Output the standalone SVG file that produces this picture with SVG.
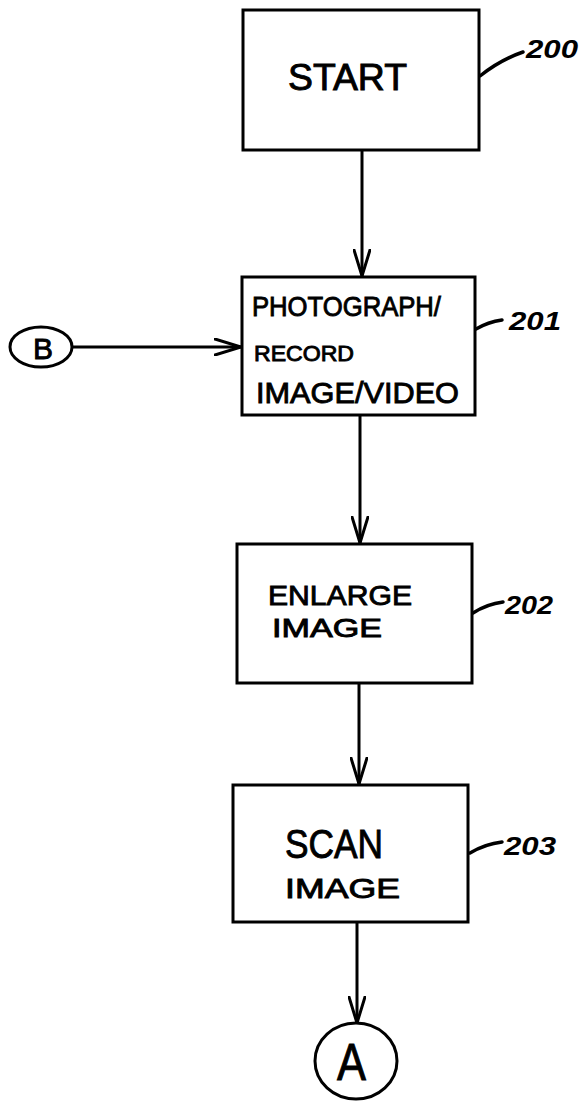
<svg xmlns="http://www.w3.org/2000/svg" width="585" height="1101" viewBox="0 0 585 1101">
<style>
.box{fill:#fff;stroke:#000;stroke-width:3}
.conn{fill:none;stroke:#000;stroke-width:3}
.lead{fill:none;stroke:#000;stroke-width:3.5;stroke-linecap:round}
.t{font-family:"Liberation Sans",Arial,sans-serif;fill:#000;stroke:#000;stroke-width:0.9}
.lbl{font-family:"Liberation Sans",Arial,sans-serif;fill:#000;font-size:26px;font-style:italic;font-weight:bold}
</style>
<defs>
<marker id="arr" viewBox="0 0 28 18" refX="27" refY="9" markerWidth="28" markerHeight="18" markerUnits="userSpaceOnUse" orient="auto">
<path d="M1,1 L27,9 L1,17" fill="none" stroke="#000" stroke-width="3" stroke-linecap="round"/>
</marker>
</defs>
<rect width="585" height="1101" fill="#fff"/>
<g id="connectors">
<line class="conn" x1="362" y1="150" x2="362" y2="276" marker-end="url(#arr)"/>
<line class="conn" x1="72" y1="347" x2="241" y2="347" marker-end="url(#arr)"/>
<line class="conn" x1="360" y1="415" x2="360" y2="543" marker-end="url(#arr)"/>
<line class="conn" x1="359" y1="683" x2="359" y2="784" marker-end="url(#arr)"/>
<line class="conn" x1="357" y1="922" x2="357" y2="1023" marker-end="url(#arr)"/>
</g>
<g id="n200">
<rect class="box" x="243" y="10" width="236" height="140"/>
<text class="t" x="288" y="90" font-size="36" textLength="119" lengthAdjust="spacingAndGlyphs">START</text>
<path class="lead" d="M480,76 Q500,60 523,52"/>
<text class="lbl" x="526" y="58" textLength="52" lengthAdjust="spacingAndGlyphs">200</text>
</g>
<g id="n201">
<rect class="box" x="242" y="277" width="233" height="138"/>
<text class="t" x="252" y="316" font-size="28" textLength="189" lengthAdjust="spacingAndGlyphs">PHOTOGRAPH/</text>
<text class="t" x="254" y="361" font-size="22" textLength="100" lengthAdjust="spacingAndGlyphs">RECORD</text>
<text class="t" x="256" y="403" font-size="30" textLength="203" lengthAdjust="spacingAndGlyphs">IMAGE/VIDEO</text>
<path class="lead" d="M476,329 Q488,322 502,320"/>
<text class="lbl" x="509" y="330" textLength="52" lengthAdjust="spacingAndGlyphs">201</text>
</g>
<g id="n202">
<rect class="box" x="237" y="544" width="235" height="139"/>
<text class="t" x="268" y="605" font-size="28" textLength="144" lengthAdjust="spacingAndGlyphs">ENLARGE</text>
<text class="t" x="272" y="637" font-size="26" textLength="110" lengthAdjust="spacingAndGlyphs">IMAGE</text>
<path class="lead" d="M473,613 Q487,604 503,602"/>
<text class="lbl" x="505" y="614" textLength="48" lengthAdjust="spacingAndGlyphs">202</text>
</g>
<g id="n203">
<rect class="box" x="233" y="785" width="235" height="137"/>
<text class="t" x="285" y="858" font-size="40" textLength="98" lengthAdjust="spacingAndGlyphs">SCAN</text>
<text class="t" x="285" y="898" font-size="28" textLength="115" lengthAdjust="spacingAndGlyphs">IMAGE</text>
<path class="lead" d="M470,853 Q485,844 502,842"/>
<text class="lbl" x="504" y="855" textLength="52" lengthAdjust="spacingAndGlyphs">203</text>
</g>
<g id="nB">
<ellipse class="box" cx="41" cy="347" rx="31" ry="20"/>
<text class="t" x="33" y="359" font-size="30" textLength="20" lengthAdjust="spacingAndGlyphs">B</text>
</g>
<g id="nA">
<ellipse class="box" cx="356" cy="1061" rx="41" ry="38"/>
<text class="t" x="337" y="1080" font-size="52" textLength="29" lengthAdjust="spacingAndGlyphs">A</text>
</g>
</svg>
